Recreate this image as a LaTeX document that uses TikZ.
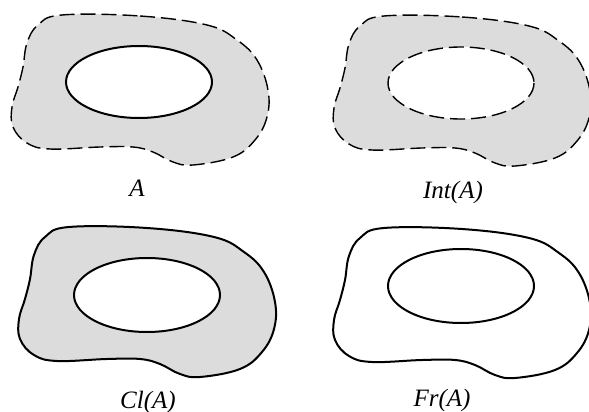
\documentclass[tikz,border=0pt]{standalone}
\usepackage{fontspec}
\setmainfont{Liberation Serif}
\definecolor{setgray}{HTML}{DCDCDC}
\tikzset{
  dashedge/.style={line width=1.4pt, dash pattern=on 15pt off 6pt},
  solidedge/.style={line width=2pt},
  setname/.style={anchor=base, font=\fontsize{25}{28}\selectfont\itshape},
  blob/.pic={\path[pic actions] plot[smooth cycle, tension=0.65] coordinates {
    (62,15) (140,16) (207,25) (237,40) (257,60) (268,90) (267,117) (255,140)
    (233,157) (193,165) (173,162) (153,152) (133,147) (100,147) (50,149)
    (27,143) (13,127) (12,107) (18,87) (23,67) (27,43) (38,25)};}
}
\begin{document}
\begin{tikzpicture}[x=1pt, y=-1pt]
    \useasboundingbox (0,0) rectangle (589,412);

    % A
    \pic[fill=setgray, draw, dashedge] at (0,0) {blob};
    \draw[solidedge, fill=white] (139,82) ellipse [x radius=73, y radius=36];
    \node[setname] (lblA) at (137,196) {A};

    % Int(A)
    \pic[fill=setgray, draw, dashedge] at (322,1) {blob};
    \draw[dashedge, fill=white] (461,83) ellipse [x radius=73, y radius=36];
    \node[setname] (lblInt) at (453,198) {Int(A)};

    % Cl(A)
    \pic[fill=setgray, draw, solidedge] at (7,212) {blob};
    \draw[solidedge, fill=white] (147,295) ellipse [x radius=73, y radius=37];
    \node[setname] (lblCl) at (148,408) {Cl(A)};

    % Fr(A)
    \pic[draw, solidedge] at (322,213) {blob};
    \draw[solidedge] (461,286) ellipse [x radius=73, y radius=37];
    \node[setname] (lblFr) at (442,406) {Fr(A)};
\end{tikzpicture}
\end{document}
